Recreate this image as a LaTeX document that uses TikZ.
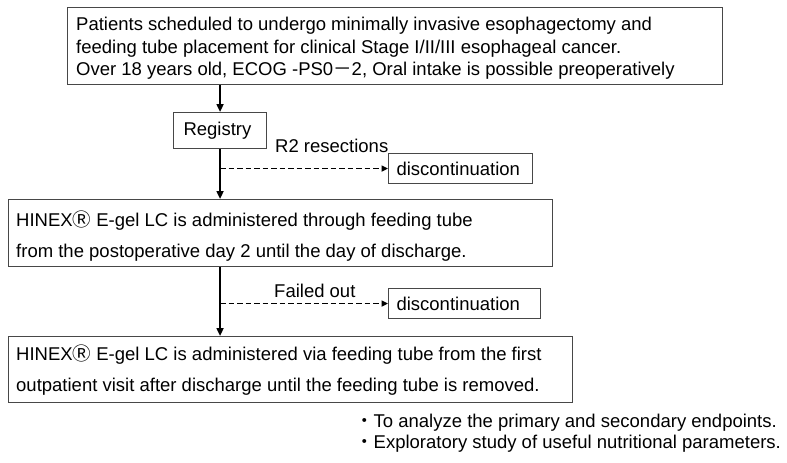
\documentclass[tikz,border=0pt]{standalone}
\usepackage{fontspec}
\setmainfont{Liberation Sans}
\newfontfamily\cjk{Noto Sans CJK JP}
\usetikzlibrary{arrows.meta}
\newcommand{\regR}{{\cjk Ⓡ}}
\begin{document}
\begin{tikzpicture}[x=1pt,y=-1pt,
  every node/.style={font=\fontsize{18.5}{22}\selectfont},
  box/.style={draw=black!72, line width=1.1pt, inner sep=0pt},
  txt/.style={anchor=base west, inner sep=0pt},
  arr/.style={line width=1.8pt, -{Triangle[length=8pt,width=7pt]}},
  darr/.style={line width=1.8pt, dash pattern=on 5.5pt off 3pt, -{Triangle[length=6.5pt,width=6pt]}},
  stopbox/.style={box, minimum height=30pt, inner xsep=8pt, align=left, anchor=north west}]
\useasboundingbox (0,0) rectangle (787,463);
\fill[white] (0,0) rectangle (787,463);
% main boxes
\node[box, minimum width=655pt, minimum height=77pt, anchor=north west] (b1) at (67,7) {};
\node[txt] (t1a) at (76,30.5) {Patients scheduled to undergo minimally invasive esophagectomy and};
\node[txt] (t1b) at (76,53) {feeding tube placement for clinical Stage I/II/III esophageal cancer.};
\node[txt] (t1c) at (76,75) {Over 18 years old, ECOG -PS0{\cjk －}2, Oral intake is possible preoperatively};
\node[box, minimum width=93pt, minimum height=36pt, anchor=north west, text width=73pt, inner xsep=10pt, align=left] (reg) at (173,112) {Registry};
\node[box, minimum width=544pt, minimum height=67pt, anchor=north west] (b2) at (8,199) {};
\node[txt] (t2a) at (16,226.5) {HINEX\regR\ E-gel LC is administered through feeding tube};
\node[txt] (t2b) at (16,257) {from the postoperative day 2 until the day of discharge.};
\node[box, minimum width=564pt, minimum height=66pt, anchor=north west] (b3) at (8,336) {};
\node[txt] (t3a) at (16,360.5) {HINEX\regR\ E-gel LC is administered via feeding tube from the first};
\node[txt] (t3b) at (16,391.5) {outpatient visit after discharge until the feeding tube is removed.};
% discontinuation boxes
\node[stopbox, text width=128pt] (d1) at (388,153) {discontinuation};
\node[stopbox, text width=136pt] (d2) at (388,288) {discontinuation};
% labels
\node[txt] (l1) at (275,152) {R2 resections};
\node[txt] (l2) at (274,297) {Failed out};
% bullets
\node[txt] (n1) at (355,427) {{\cjk ・}To analyze the primary and secondary endpoints.};
\node[txt] (n2) at (355,448) {{\cjk ・}Exploratory study of useful nutritional parameters.};
% connectors
\draw[arr] (reg.north |- b1.south) -- (reg.north);
\draw[arr] (reg.south) -- (reg.south |- b2.north);
\draw[arr] (reg.south |- b2.south) -- (reg.south |- b3.north);
\draw[darr] (reg.south |- d1.west) -- (d1.west);
\draw[darr] (reg.south |- d2.west) -- (d2.west);
\end{tikzpicture}
\end{document}
